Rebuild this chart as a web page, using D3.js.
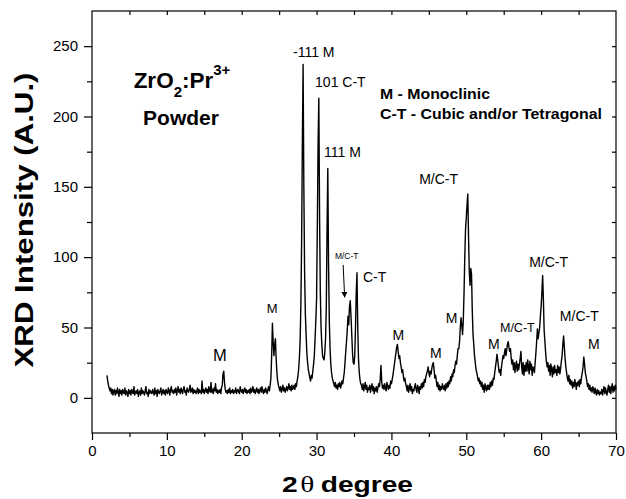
<!DOCTYPE html>
<html>
<head>
<meta charset="utf-8">
<script src="https://cdn.jsdelivr.net/npm/d3@7/dist/d3.min.js"></script>
<style>
  html, body { margin: 0; padding: 0; background: #fff; }
  svg { display: block; font-family: "Liberation Sans", Arial, sans-serif; }
  .axis path, .axis line { stroke: #000; stroke-width: 1.2; }
  .axis text { font-size: 15px; fill: #000; font-family: "Liberation Sans", Arial, sans-serif; }
</style>
</head>
<body>
<div id="chart"></div>
<script>
// XRD pattern of ZrO2:Pr3+ powder, scanned from 2° to 70° in 0.1° steps
const scanStart = 2.0;
const scanStep = 0.1;
const intensity = [
  16, 12, 9, 7, 5, 7, 3, 6, 2, 5,        // 2
  6, 2, 5, 3, 7, 4, 1, 6, 3, 5,          // 3
  2, 6, 4, 3, 7, 2, 5, 4, 1, 6,          // 4
  3, 5, 2, 6, 4, 3, 8, 2, 4, 5,          // 5
  3, 6, 1, 4, 5, 2, 7, 3, 5, 4,          // 6
  2, 5, 8, 3, 4, 1, 6, 3, 5, 4,          // 7
  3, 6, 4, 2, 7, 3, 5, 1, 6, 4,          // 8
  3, 5, 7, 2, 4, 6, 3, 5, 2, 6,          // 9
  4, 3, 7, 5, 2, 6, 8, 4, 5, 3,          // 10
  6, 4, 7, 2, 5, 8, 4, 6, 3, 7,          // 11
  5, 3, 6, 8, 4, 5, 2, 7, 5, 4,          // 12
  6, 9, 4, 5, 7, 3, 6, 4, 5, 3,          // 13
  5, 7, 3, 6, 4, 5, 3, 12, 4, 6,         // 14
  3, 5, 7, 4, 6, 3, 8, 5, 4, 11,         // 15
  4, 6, 3, 7, 5, 10, 4, 6, 3, 5,         // 16
  4, 6, 3, 7, 9, 17, 19, 11, 6, 4,       // 17
  5, 3, 6, 4, 7, 3, 5, 4, 6, 3,          // 18
  5, 4, 7, 3, 5, 6, 4, 3, 8, 5,          // 19
  4, 6, 3, 5, 7, 4, 6, 3, 5, 4,          // 20
  6, 3, 7, 4, 5, 8, 4, 6, 3, 5,          // 21
  7, 4, 6, 3, 5, 7, 4, 8, 5, 3,          // 22
  6, 4, 7, 5, 3, 6, 8, 5, 9, 14,         // 23
  30, 53, 40, 30, 38, 42, 28, 18, 12, 9, // 24
  7, 5, 8, 4, 6, 9, 5, 7, 4, 6,          // 25
  8, 5, 7, 10, 6, 8, 5, 9, 6, 7,         // 26
  9, 6, 10, 8, 12, 15, 20, 28, 40, 65,   // 27
  110, 180, 237, 150, 90, 60, 45, 32, 25, 20, // 28
  17, 14, 12, 16, 14, 19, 24, 30, 42, 55,     // 29
  70, 120, 180, 213, 130, 75, 50, 38, 30, 28, // 30
  27, 32, 42, 65, 120, 163, 95, 55, 35, 24,   // 31
  18, 14, 12, 10, 8, 11, 7, 9, 6, 10,         // 32
  8, 11, 7, 9, 12, 10, 14, 18, 25, 33,        // 33
  40, 48, 58, 52, 65, 69, 58, 45, 32, 25,     // 34
  24, 30, 50, 75, 89, 50, 28, 18, 13, 10,     // 35
  9, 6, 10, 5, 8, 11, 6, 9, 4, 7,             // 36
  6, 9, 4, 7, 10, 5, 8, 3, 7, 5,              // 37
  8, 4, 7, 10, 8, 13, 23, 12, 7, 9,           // 38
  6, 10, 7, 5, 11, 8, 6, 9, 7, 12,            // 39
  10, 13, 16, 20, 24, 28, 32, 36, 38, 33,     // 40
  28, 30, 25, 22, 18, 20, 15, 12, 14, 10,     // 41
  8, 5, 9, 4, 7, 10, 5, 8, 3, 6,              // 42
  5, 8, 10, 6, 4, 9, 7, 3, 8, 6,              // 43
  10, 7, 11, 8, 13, 11, 15, 17, 19, 22,       // 44
  18, 15, 19, 17, 21, 24, 25, 20, 14, 16,     // 45
  12, 8, 11, 6, 9, 5, 8, 6, 10, 7,            // 46
  6, 9, 5, 10, 7, 11, 8, 12, 10, 15,          // 47
  12, 17, 15, 20, 18, 23, 26, 24, 30, 35,     // 48
  35, 40, 50, 57, 52, 45, 55, 75, 100, 120,   // 49
  128, 137, 145, 115, 90, 80, 92, 88, 62, 45, // 50
  38, 30, 25, 20, 18, 15, 12, 14, 10, 12,     // 51
  8, 11, 6, 9, 4, 10, 7, 5, 9, 6,             // 52
  9, 6, 11, 8, 12, 9, 14, 13, 18, 22,         // 53
  26, 31, 27, 22, 18, 20, 16, 22, 26, 30,     // 54
  28, 32, 35, 30, 34, 38, 40, 36, 33, 35,     // 55
  28, 24, 27, 20, 25, 18, 23, 26, 19, 24,     // 56
  20, 24, 28, 33, 22, 17, 25, 16, 23, 19,     // 57
  25, 19, 27, 22, 17, 26, 20, 24, 16, 22,     // 58
  21, 18, 25, 32, 40, 49, 42, 46, 50, 58,     // 59
  65, 75, 87, 70, 48, 40, 32, 26, 22, 25,     // 60
  19, 23, 16, 24, 20, 15, 22, 17, 23, 18,     // 61
  20, 16, 23, 18, 22, 17, 21, 26, 30, 38,     // 62
  44, 36, 28, 22, 18, 14, 12, 16, 10, 13,     // 63
  9, 12, 7, 11, 8, 13, 10, 6, 11, 9,          // 64
  12, 8, 13, 10, 15, 18, 22, 29, 24, 18,      // 65
  15, 12, 8, 10, 6, 9, 5, 7, 4, 8,            // 66
  6, 3, 7, 4, 2, 6, 3, 5, 2, 4,               // 67
  3, 6, 2, 5, 8, 3, 7, 4, 2, 6,               // 68
  9, 4, 8, 3, 7, 10, 4, 8, 5, 9,              // 69
  6                                           // 70
];

const xTicks = [0, 10, 20, 30, 40, 50, 60, 70];
const xMinorTicks = [5, 15, 25, 35, 45, 55, 65];
const yTicks = [0, 50, 100, 150, 200, 250];
const yMinorTicks = [25, 75, 125, 175, 225];

// Peak labels: [2θ, intensity, text, font size]
const peakLabels = [
  [26.85, 242, "-111 M", 14],
  [29.8, 221, "101 C-T", 14],
  [31.0, 171.5, "111 M", 14],
  [43.7, 152, "M/C-T", 14],
  [32.45, 98.5, "M/C-T", 8.5],
  [36.2, 82.3, "C-T", 14],
  [40.15, 41, "M", 14],
  [45.15, 28, "M", 14],
  [47.25, 53, "M", 14],
  [52.9, 34.5, "M", 14],
  [54.5, 47, "M/C-T", 12.5],
  [58.4, 93.2, "M/C-T", 14],
  [62.5, 54.8, "M/C-T", 14],
  [66.25, 34.5, "M", 14],
  [16.15, 26, "M", 16.5],
  [23.35, 60, "M", 13]
];
// arrow pointing at the 34.4° shoulder: [from 2θ, from I, to 2θ, to I]
const arrowLine = [33.55, 94.5, 33.75, 71.5];

const W = 626, H = 499;
const margin = { left: 92, right: 10, top: 11, bottom: 66 };

const svg = d3.select("#chart").append("svg")
  .attr("width", W).attr("height", H);

const x = d3.scaleLinear().domain([0, 70]).range([margin.left, W - margin.right]);
const y = d3.scaleLinear().domain([-25, 275]).range([H - margin.bottom, margin.top]);

const points = intensity.map((v, i) => [scanStart + i * scanStep, v]);

// frame
svg.append("rect")
  .attr("x", x(0)).attr("y", y(275))
  .attr("width", x(70) - x(0)).attr("height", y(-25) - y(275))
  .attr("fill", "none").attr("stroke", "#000").attr("stroke-width", 1.2);

// bottom axis, major + minor
svg.append("g").attr("class", "axis")
  .attr("transform", `translate(0,${y(-25)})`)
  .call(d3.axisBottom(x).tickValues(xTicks).tickSize(7).tickSizeOuter(0).tickPadding(5).tickFormat(d3.format("d")));
svg.append("g").attr("class", "axis")
  .attr("transform", `translate(0,${y(-25)})`)
  .call(d3.axisBottom(x).tickValues(xMinorTicks).tickSize(4).tickSizeOuter(0).tickFormat(""));

// left axis
svg.append("g").attr("class", "axis")
  .attr("transform", `translate(${x(0)},0)`)
  .call(d3.axisLeft(y).tickValues(yTicks).tickSize(8).tickSizeOuter(0).tickPadding(6).tickFormat(d3.format("d")));
svg.append("g").attr("class", "axis")
  .attr("transform", `translate(${x(0)},0)`)
  .call(d3.axisLeft(y).tickValues(yMinorTicks).tickSize(5).tickSizeOuter(0).tickFormat(""));

// top and right axes: inward ticks only
svg.append("g").attr("class", "axis")
  .attr("transform", `translate(0,${y(275)})`)
  .call(d3.axisBottom(x).tickValues(xMinorTicks.concat(xTicks.slice(1, -1))).tickSize(4).tickSizeOuter(0).tickFormat(""));
svg.append("g").attr("class", "axis")
  .attr("transform", `translate(${x(70)},0)`)
  .call(d3.axisLeft(y).tickValues(yTicks.concat(yMinorTicks)).tickSize(4).tickSizeOuter(0).tickFormat(""));

svg.selectAll(".axis .domain").remove();

// pattern
svg.append("path")
  .datum(points)
  .attr("fill", "none")
  .attr("stroke", "#000")
  .attr("stroke-width", 1.4)
  .attr("stroke-linejoin", "round")
  .attr("d", d3.line().x(d => x(d[0])).y(d => y(d[1])));

// peak labels
svg.selectAll(".peak")
  .data(peakLabels)
  .join("text")
  .attr("class", "peak")
  .attr("x", d => x(d[0]))
  .attr("y", d => y(d[1]))
  .attr("font-size", d => d[3])
  .text(d => d[2]);

// arrow
svg.append("defs").append("marker")
  .attr("id", "head").attr("viewBox", "0 0 10 10")
  .attr("refX", 9).attr("refY", 5)
  .attr("markerWidth", 6).attr("markerHeight", 7)
  .attr("orient", "auto")
  .append("path").attr("d", "M0,0 L10,5 L0,10 Z").attr("fill", "#000");
svg.append("line")
  .attr("x1", x(arrowLine[0])).attr("y1", y(arrowLine[1]))
  .attr("x2", x(arrowLine[2])).attr("y2", y(arrowLine[3]))
  .attr("stroke", "#000").attr("stroke-width", 1)
  .attr("marker-end", "url(#head)");

// sample name
const title = svg.append("text")
  .attr("x", 182).attr("y", 88)
  .attr("text-anchor", "middle")
  .attr("font-size", 22.5).attr("font-weight", "bold");
title.append("tspan").text("ZrO");
title.append("tspan").attr("font-size", 15).attr("dy", 9).text("2");
title.append("tspan").attr("dy", -9).text(":Pr");
title.append("tspan").attr("font-size", 15).attr("dy", -13).text("3+");

svg.append("text")
  .attr("x", 181).attr("y", 125)
  .attr("text-anchor", "middle")
  .attr("font-size", 21).attr("font-weight", "bold")
  .text("Powder");

// phase legend
svg.append("text")
  .attr("x", 380).attr("y", 99)
  .attr("font-size", 15).attr("font-weight", "bold")
  .attr("textLength", 110).attr("lengthAdjust", "spacingAndGlyphs")
  .text("M - Monoclinic");
svg.append("text")
  .attr("x", 380).attr("y", 119)
  .attr("font-size", 15).attr("font-weight", "bold")
  .attr("textLength", 222).attr("lengthAdjust", "spacingAndGlyphs")
  .text("C-T - Cubic and/or Tetragonal");

// axis titles
svg.append("text")
  .attr("transform", "translate(33,220) rotate(-90)")
  .attr("text-anchor", "middle")
  .attr("font-size", 25).attr("font-weight", "bold")
  .attr("textLength", 295).attr("lengthAdjust", "spacingAndGlyphs")
  .text("XRD Intensity (A.U.)");

const xt = svg.append("text")
  .attr("x", 282).attr("y", 492)
  .attr("font-size", 22).attr("font-weight", "bold")
  .attr("textLength", 131).attr("lengthAdjust", "spacingAndGlyphs");
xt.append("tspan").text("2");
xt.append("tspan").attr("font-family", "Liberation Serif").attr("font-weight", "normal").attr("font-size", 23).attr("dx", 2).text("θ");
xt.append("tspan").attr("dx", 5).text("degree");
</script>
</body>
</html>
